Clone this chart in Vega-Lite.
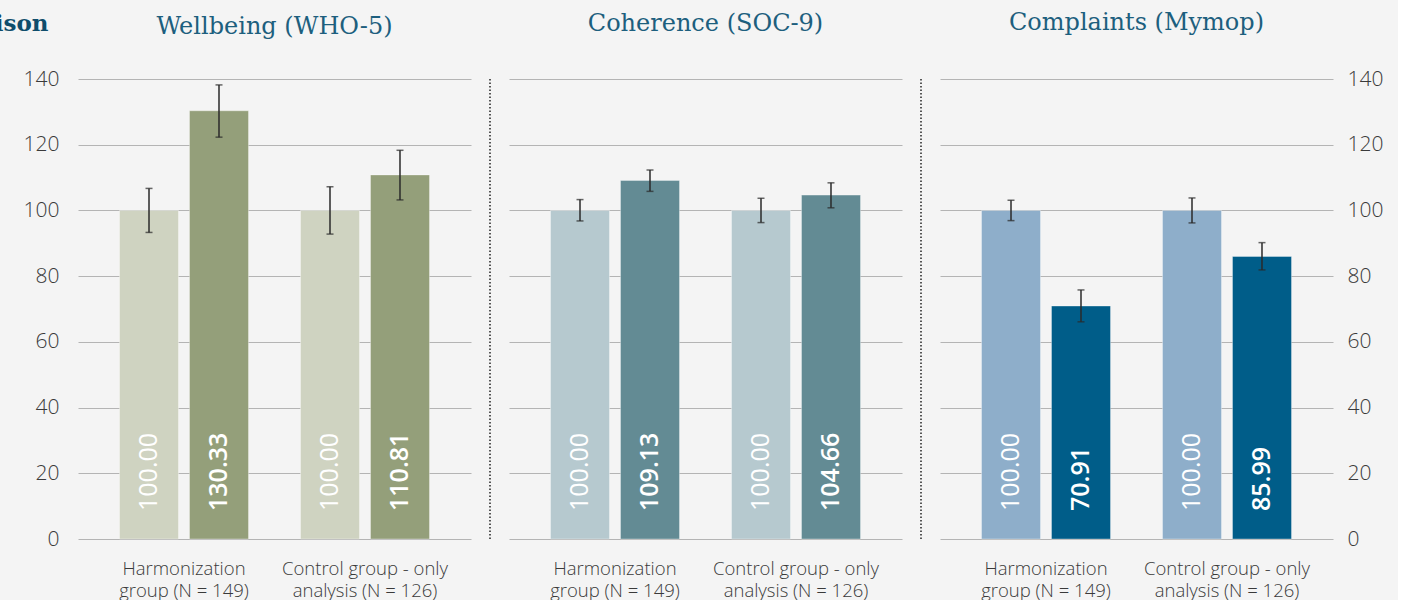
{
  "$schema": "https://vega.github.io/schema/vega-lite/v6.json",
  "background": "#f4f4f4",
  "padding": {"left": -107, "top": 11, "right": 15, "bottom": 0},
  "spacing": 17.5,
  "resolve": {"scale": {"color": "independent"}},
  "config": {
    "view": {"stroke": null},
    "axis": {"labelFont": "Open Sans", "labelFontWeight": 300, "labelColor": "#3a3a3a", "gridColor": "#b4b4b4", "gridWidth": 1, "domain": false, "ticks": false},
    "title": {"font": "DejaVu Serif", "fontSize": 24, "fontWeight": 300, "color": "#1d5f7e", "baseline": "alphabetic", "anchor": "middle"}
  },
  "datasets": {
    "wellbeing": [
      {"group": "Harmonization\ngroup (N = 149)", "time": "pre", "value": 100.00, "low": 93.3, "high": 106.7},
      {"group": "Harmonization\ngroup (N = 149)", "time": "post", "value": 130.33, "low": 122.3, "high": 138.2},
      {"group": "Control group - only\nanalysis (N = 126)", "time": "pre", "value": 100.00, "low": 92.8, "high": 107.2},
      {"group": "Control group - only\nanalysis (N = 126)", "time": "post", "value": 110.81, "low": 103.2, "high": 118.3}
    ],
    "coherence": [
      {"group": "Harmonization\ngroup (N = 149)", "time": "pre", "value": 100.00, "low": 96.8, "high": 103.3},
      {"group": "Harmonization\ngroup (N = 149)", "time": "post", "value": 109.13, "low": 105.8, "high": 112.3},
      {"group": "Control group - only\nanalysis (N = 126)", "time": "pre", "value": 100.00, "low": 96.3, "high": 103.7},
      {"group": "Control group - only\nanalysis (N = 126)", "time": "post", "value": 104.66, "low": 100.8, "high": 108.4}
    ],
    "complaints": [
      {"group": "Harmonization\ngroup (N = 149)", "time": "pre", "value": 100.00, "low": 96.9, "high": 103.1},
      {"group": "Harmonization\ngroup (N = 149)", "time": "post", "value": 70.91, "low": 66.1, "high": 75.8},
      {"group": "Control group - only\nanalysis (N = 126)", "time": "pre", "value": 100.00, "low": 96.2, "high": 103.8},
      {"group": "Control group - only\nanalysis (N = 126)", "time": "post", "value": 85.99, "low": 81.9, "high": 90.2}
    ],
    "sep": [{"s": "a"}]
  },
  "hconcat": [
    {
      "width": 393, "height": 460,
      "title": {"text": "Wellbeing (WHO-5)", "offset": -27},
      "data": {"name": "wellbeing"},
      "encoding": {
        "x": {"field": "group", "type": "nominal", "sort": ["Harmonization\ngroup (N = 149)", "Control group - only\nanalysis (N = 126)"], "scale": {"paddingInner": 0.2873, "paddingOuter": 0.2293}, "axis": {"title": null, "labelAngle": 0, "labelFontSize": 18.5, "labelLineHeight": 22, "labelPadding": 20, "labelBaseline": "top", "labelLimit": 300, "labelExpr": "split(datum.label, '\\n')"}},
        "xOffset": {"field": "time", "type": "nominal", "sort": ["pre", "post"], "scale": {"paddingInner": 0.157, "paddingOuter": 0}}
      },
      "layer": [
        {"mark": {"type": "bar", "stroke": "#ffffff", "strokeOpacity": 0.35, "strokeWidth": 1},
         "encoding": {
           "y": {"field": "value", "type": "quantitative", "scale": {"domain": [0, 140]}, "axis": {"title": "Comparison", "titleAngle": 0, "titleAlign": "right", "titleBaseline": "alphabetic", "titleX": -30, "titleY": -49, "titleFont": "DejaVu Serif", "titleFontSize": 23, "titleFontWeight": "bold", "titleColor": "#0f4d6b", "values": [0, 20, 40, 60, 80, 100, 120, 140], "labelFontSize": 21, "labelPadding": 19, "grid": true, "orient": "left"}},
           "color": {"field": "time", "type": "nominal", "scale": {"domain": ["pre", "post"], "range": ["#cfd3c1", "#949f7a"]}, "legend": null}
         }},
        {"mark": {"type": "rule", "color": "#2a2a2a", "strokeWidth": 1.5}, "encoding": {"y": {"field": "low", "type": "quantitative"}, "y2": {"field": "high"}}},
        {"mark": {"type": "tick", "size": 7, "thickness": 1.5, "color": "#2a2a2a"}, "encoding": {"y": {"field": "low", "type": "quantitative"}}},
        {"mark": {"type": "tick", "size": 7, "thickness": 1.5, "color": "#2a2a2a"}, "encoding": {"y": {"field": "high", "type": "quantitative"}}},
        {"transform": [{"filter": "datum.time == 'pre'"}], "mark": {"type": "text", "angle": 270, "align": "left", "baseline": "middle", "dx": 28, "color": "#ffffff", "font": "Open Sans", "fontSize": 25, "fontWeight": 400}, "encoding": {"y": {"datum": 0}, "text": {"field": "value", "type": "quantitative", "format": ".2f"}}},
        {"transform": [{"filter": "datum.time == 'post'"}], "mark": {"type": "text", "angle": 270, "align": "left", "baseline": "middle", "dx": 28, "color": "#ffffff", "font": "Open Sans", "fontSize": 25, "fontWeight": 600}, "encoding": {"y": {"datum": 0}, "text": {"field": "value", "type": "quantitative", "format": ".2f"}}}
      ]
    },
    {
      "width": 1, "height": 460,
      "data": {"name": "sep"},
      "mark": {"type": "rule", "color": "#222222", "strokeWidth": 1.5, "strokeDash": [1.5, 2]},
      "encoding": {"x": {"field": "s", "type": "nominal", "axis": null}}
    },
    {
      "width": 393, "height": 460,
      "title": {"text": "Coherence (SOC-9)", "offset": 43},
      "data": {"name": "coherence"},
      "encoding": {
        "x": {"field": "group", "type": "nominal", "sort": ["Harmonization\ngroup (N = 149)", "Control group - only\nanalysis (N = 126)"], "scale": {"paddingInner": 0.2873, "paddingOuter": 0.2293}, "axis": {"title": null, "labelAngle": 0, "labelFontSize": 18.5, "labelLineHeight": 22, "labelPadding": 20, "labelBaseline": "top", "labelLimit": 300, "labelExpr": "split(datum.label, '\\n')"}},
        "xOffset": {"field": "time", "type": "nominal", "sort": ["pre", "post"], "scale": {"paddingInner": 0.157, "paddingOuter": 0}}
      },
      "layer": [
        {"mark": {"type": "bar", "stroke": "#ffffff", "strokeOpacity": 0.35, "strokeWidth": 1},
         "encoding": {
           "y": {"field": "value", "type": "quantitative", "scale": {"domain": [0, 140]}, "axis": {"title": null, "labels": false, "values": [0, 20, 40, 60, 80, 100, 120, 140], "grid": true}},
           "color": {"field": "time", "type": "nominal", "scale": {"domain": ["pre", "post"], "range": ["#b6c9cf", "#638b94"]}, "legend": null}
         }},
        {"mark": {"type": "rule", "color": "#2a2a2a", "strokeWidth": 1.5}, "encoding": {"y": {"field": "low", "type": "quantitative"}, "y2": {"field": "high"}}},
        {"mark": {"type": "tick", "size": 7, "thickness": 1.5, "color": "#2a2a2a"}, "encoding": {"y": {"field": "low", "type": "quantitative"}}},
        {"mark": {"type": "tick", "size": 7, "thickness": 1.5, "color": "#2a2a2a"}, "encoding": {"y": {"field": "high", "type": "quantitative"}}},
        {"transform": [{"filter": "datum.time == 'pre'"}], "mark": {"type": "text", "angle": 270, "align": "left", "baseline": "middle", "dx": 28, "color": "#ffffff", "font": "Open Sans", "fontSize": 25, "fontWeight": 400}, "encoding": {"y": {"datum": 0}, "text": {"field": "value", "type": "quantitative", "format": ".2f"}}},
        {"transform": [{"filter": "datum.time == 'post'"}], "mark": {"type": "text", "angle": 270, "align": "left", "baseline": "middle", "dx": 28, "color": "#ffffff", "font": "Open Sans", "fontSize": 25, "fontWeight": 600}, "encoding": {"y": {"datum": 0}, "text": {"field": "value", "type": "quantitative", "format": ".2f"}}}
      ]
    },
    {
      "width": 1, "height": 460,
      "data": {"name": "sep"},
      "mark": {"type": "rule", "color": "#222222", "strokeWidth": 1.5, "strokeDash": [1.5, 2]},
      "encoding": {"x": {"field": "s", "type": "nominal", "axis": null}}
    },
    {
      "width": 393, "height": 460,
      "title": {"text": "Complaints (Mymop)", "offset": 33},
      "data": {"name": "complaints"},
      "encoding": {
        "x": {"field": "group", "type": "nominal", "sort": ["Harmonization\ngroup (N = 149)", "Control group - only\nanalysis (N = 126)"], "scale": {"paddingInner": 0.2873, "paddingOuter": 0.2293}, "axis": {"title": null, "labelAngle": 0, "labelFontSize": 18.5, "labelLineHeight": 22, "labelPadding": 20, "labelBaseline": "top", "labelLimit": 300, "labelExpr": "split(datum.label, '\\n')"}},
        "xOffset": {"field": "time", "type": "nominal", "sort": ["pre", "post"], "scale": {"paddingInner": 0.157, "paddingOuter": 0}}
      },
      "layer": [
        {"mark": {"type": "bar", "stroke": "#ffffff", "strokeOpacity": 0.35, "strokeWidth": 1},
         "encoding": {
           "y": {"field": "value", "type": "quantitative", "scale": {"domain": [0, 140]}, "axis": {"title": null, "orient": "right", "values": [0, 20, 40, 60, 80, 100, 120, 140], "labelFontSize": 21, "labelPadding": 14, "grid": true}},
           "color": {"field": "time", "type": "nominal", "scale": {"domain": ["pre", "post"], "range": ["#8eaeca", "#005d89"]}, "legend": null}
         }},
        {"mark": {"type": "rule", "color": "#2a2a2a", "strokeWidth": 1.5}, "encoding": {"y": {"field": "low", "type": "quantitative"}, "y2": {"field": "high"}}},
        {"mark": {"type": "tick", "size": 7, "thickness": 1.5, "color": "#2a2a2a"}, "encoding": {"y": {"field": "low", "type": "quantitative"}}},
        {"mark": {"type": "tick", "size": 7, "thickness": 1.5, "color": "#2a2a2a"}, "encoding": {"y": {"field": "high", "type": "quantitative"}}},
        {"transform": [{"filter": "datum.time == 'pre'"}], "mark": {"type": "text", "angle": 270, "align": "left", "baseline": "middle", "dx": 28, "color": "#ffffff", "font": "Open Sans", "fontSize": 25, "fontWeight": 400}, "encoding": {"y": {"datum": 0}, "text": {"field": "value", "type": "quantitative", "format": ".2f"}}},
        {"transform": [{"filter": "datum.time == 'post'"}], "mark": {"type": "text", "angle": 270, "align": "left", "baseline": "middle", "dx": 28, "color": "#ffffff", "font": "Open Sans", "fontSize": 25, "fontWeight": 600}, "encoding": {"y": {"datum": 0}, "text": {"field": "value", "type": "quantitative", "format": ".2f"}}}
      ]
    }
  ]
}
